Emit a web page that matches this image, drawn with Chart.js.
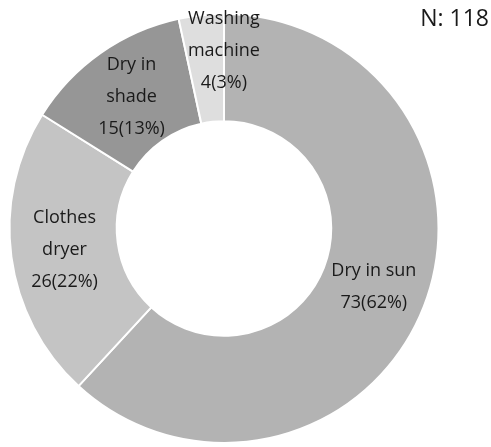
<!DOCTYPE html>
<html>
<head>
<meta charset="utf-8">
<script src="https://cdn.jsdelivr.net/npm/chart.js@4/dist/chart.umd.min.js"></script>
<style>
  html, body { margin: 0; padding: 0; background: #fff; }
  #wrap { position: relative; width: 491px; height: 447px; }
</style>
</head>
<body>
<div id="wrap"><canvas id="chart" width="491" height="447"></canvas></div>
<script>
// drying methods, clockwise from 12 o'clock
const labels = [['Dry in sun'], ['Clothes', 'dryer'], ['Dry in', 'shade'], ['Washing', 'machine']];
const counts = [73, 26, 15, 4];
const percents = [62, 22, 13, 3];
const total = 118;
const colors = ['#b3b3b3', '#c4c4c4', '#969696', '#dedede'];

const FONT = '"Open Sans", "Noto Sans", sans-serif';

// writes "name / n(pct%)" inside each slice
const sliceLabels = {
  id: 'sliceLabels',
  afterDatasetsDraw(chart) {
    const ctx = chart.ctx;
    const meta = chart.getDatasetMeta(0);
    ctx.save();
    ctx.font = '18px ' + FONT;
    ctx.fillStyle = '#1a1a1a';
    ctx.textAlign = 'center';
    ctx.textBaseline = 'middle';
    meta.data.forEach((arc, i) => {
      let { x, y } = arc.tooltipPosition();
      // tiny slice: lift its text to sit above the ring top
      if (i === 3) { x += 17; y -= 18; }
      const lines = labels[i].concat([counts[i] + '(' + percents[i] + '%)']);
      const lh = 32;
      const y0 = y - (lines.length - 1) * lh / 2;
      lines.forEach((t, k) => ctx.fillText(t, x, y0 + k * lh));
    });
    // sample size, top right
    ctx.font = '23px ' + FONT;
    ctx.textAlign = 'right';
    ctx.fillText('N: ' + total, 489, 19);
    ctx.restore();
  }
};

new Chart(document.getElementById('chart'), {
  type: 'doughnut',
  data: {
    labels: labels.map(l => l.join(' ')),
    datasets: [{
      data: counts,
      backgroundColor: colors,
      borderColor: '#ffffff',
      borderWidth: 2
    }]
  },
  options: {
    responsive: false,
    animation: false,
    cutout: '50%',
    layout: { padding: { left: 8, right: 51, top: 13, bottom: 3 } },
    plugins: {
      legend: { display: false },
      tooltip: { enabled: false }
    }
  },
  plugins: [sliceLabels]
});
</script>
</body>
</html>
